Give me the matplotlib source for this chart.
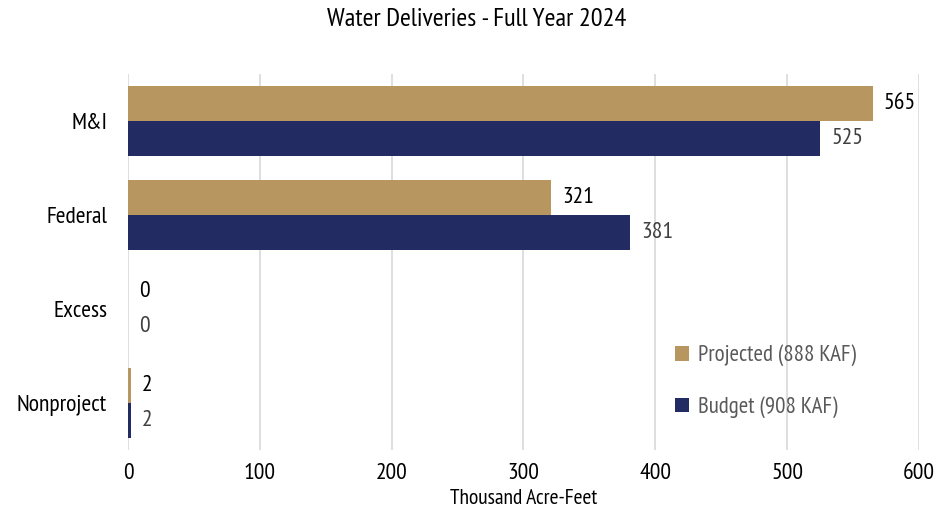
import matplotlib
matplotlib.use("Agg")
import matplotlib.pyplot as plt
import numpy as np

categories = ["M&I", "Federal", "Excess", "Nonproject"]
projected = [565, 321, 0, 2]
budget = [525, 381, 0, 2]
series_names = ["Projected (888 KAF)", "Budget (908 KAF)"]
xticks = [0, 100, 200, 300, 400, 500, 600]

plt.rcParams['font.family'] = ['PT Sans Narrow', 'DejaVu Sans']

fig = plt.figure(figsize=(9.53, 5.2), dpi=100)
ax = fig.add_axes([0.1343, 0.1346, 0.8300, 0.7231])

c_proj = "#B8965F"
c_bud = "#232B63"
h = 0.37
y = np.arange(len(categories))
ax.barh(y - h/2, projected, height=h, color=c_proj, label=series_names[0], zorder=3)
ax.barh(y + h/2, budget, height=h, color=c_bud, label=series_names[1], zorder=3)

for yi, v in zip(y, projected):
    ax.annotate(f"{v}", (v, yi - h/2), xytext=(8, 0), textcoords="offset points",
                va="center", ha="left", fontsize=17, color="black")
for yi, v in zip(y, budget):
    ax.annotate(f"{v}", (v, yi + h/2), xytext=(8, 0), textcoords="offset points",
                va="center", ha="left", fontsize=17, color="#404040")

ax.set_xlim(0, 600)
ax.set_ylim(3.5, -0.5)
ax.set_yticks(y)
ax.set_yticklabels(categories, fontsize=17)
ax.set_xticks(xticks)
ax.set_xticklabels([str(t) for t in xticks], fontsize=17)
ax.tick_params(axis='x', length=0, pad=9)
ax.tick_params(axis='y', length=0, pad=15)
ax.grid(axis='x', color="#D9D9D9", linewidth=1.2, zorder=0)
for s in ax.spines.values():
    s.set_visible(False)

ax.set_xlabel("Thousand Acre-Feet", fontsize=15.5, labelpad=4)
fig.suptitle("Water Deliveries - Full Year 2024", fontsize=19, y=0.985)

leg = ax.legend(loc="lower right", bbox_to_anchor=(0.946, 0.03), frameon=False, fontsize=16.5,
                handlelength=0.6, handleheight=0.6, labelspacing=1.3, handletextpad=0.4)
for t in leg.get_texts():
    t.set_color("#595959")

fig.savefig("out.png", dpi=100)
